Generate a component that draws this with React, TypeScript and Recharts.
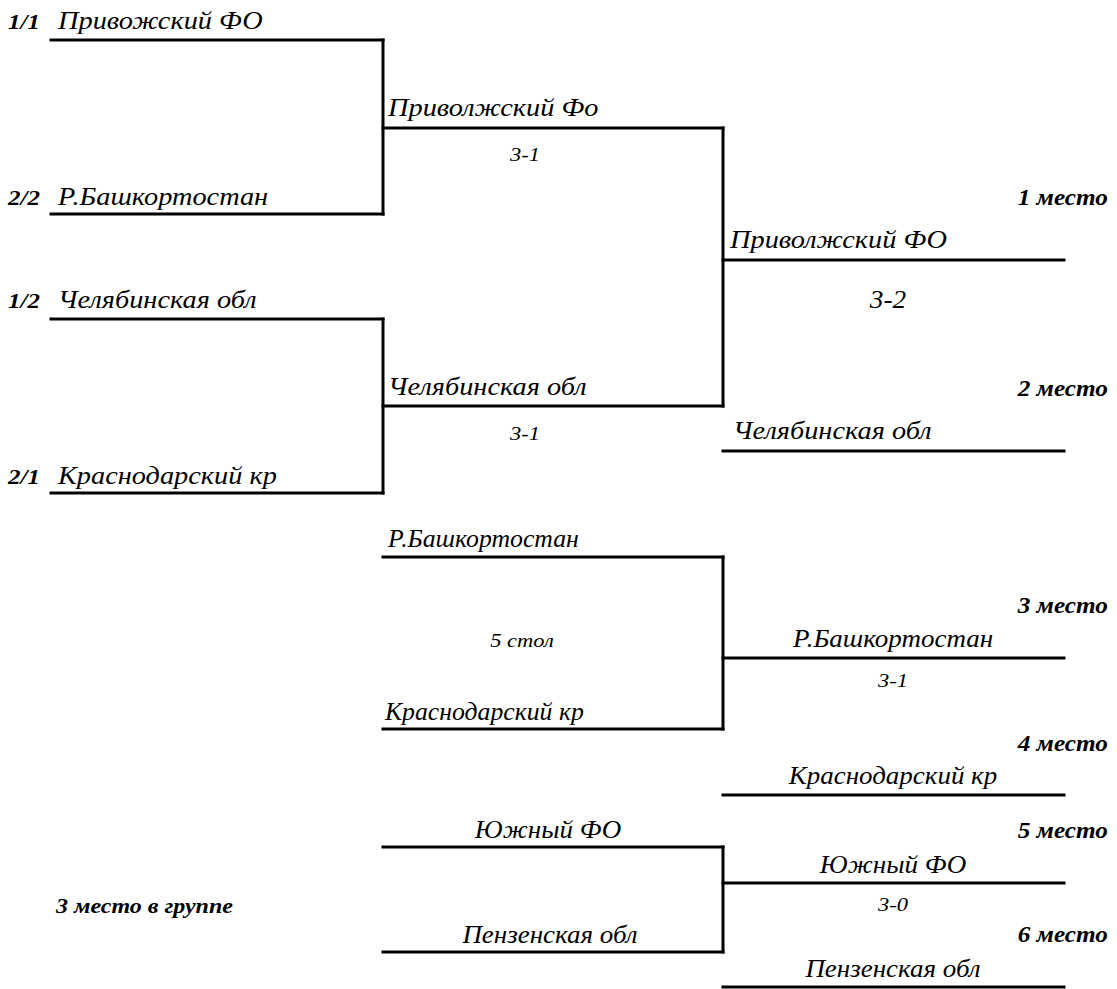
import React from "react";
import { ComposedChart, XAxis, YAxis, Scatter, ReferenceLine } from "recharts";

// bracket lines, in chart units (x across, y down)
const hLines = [
  { x1: 51, x2: 383, y: 40 },
  { x1: 51, x2: 383, y: 214 },
  { x1: 51, x2: 383, y: 319 },
  { x1: 51, x2: 383, y: 493 },
  { x1: 383, x2: 723, y: 128 },
  { x1: 383, x2: 723, y: 406 },
  { x1: 723, x2: 1064, y: 260 },
  { x1: 723, x2: 1064, y: 451 },
  { x1: 383, x2: 723, y: 557 },
  { x1: 383, x2: 723, y: 729 },
  { x1: 723, x2: 1064, y: 658 },
  { x1: 723, x2: 1064, y: 795 },
  { x1: 383, x2: 723, y: 847 },
  { x1: 383, x2: 723, y: 952 },
  { x1: 723, x2: 1064, y: 883 },
  { x1: 723, x2: 1064, y: 987 },
];
const vLines = [
  { x: 383, y1: 40, y2: 214 },
  { x: 383, y1: 319, y2: 493 },
  { x: 723, y1: 128, y2: 406 },
  { x: 723, y1: 557, y2: 729 },
  { x: 723, y1: 847, y2: 952 },
];

const seeds = [
  { x: 8, y: 29, text: "1/1" },
  { x: 8, y: 205, text: "2/2" },
  { x: 8, y: 308, text: "1/2" },
  { x: 8, y: 484, text: "2/1" },
];
const teamsMain = [
  { x: 58, y: 29, text: "Привожский ФО" },
  { x: 58, y: 205, text: "Р.Башкортостан" },
  { x: 58, y: 308, text: "Челябинская обл" },
  { x: 58, y: 484, text: "Краснодарский кр" },
  { x: 388, y: 116, text: "Приволжский Фо" },
  { x: 388, y: 395, text: "Челябинская обл" },
  { x: 730, y: 248, text: "Приволжский ФО" },
  { x: 733, y: 439, text: "Челябинская обл" },
];
const teamsThird = [
  { x: 388, y: 547, text: "Р.Башкортостан" },
  { x: 385, y: 720, text: "Краснодарский кр" },
];
const teamsCenter = [
  { x: 893, y: 647, text: "Р.Башкортостан" },
  { x: 893, y: 784, text: "Краснодарский кр" },
  { x: 548, y: 838, text: "Южный ФО" },
  { x: 550, y: 943, text: "Пензенская обл" },
  { x: 893, y: 873, text: "Южный ФО" },
  { x: 893, y: 977, text: "Пензенская обл" },
];
const scores = [
  { x: 525, y: 161, text: "3-1" },
  { x: 525, y: 440, text: "3-1" },
  { x: 893, y: 687, text: "3-1" },
  { x: 893, y: 911, text: "3-0" },
  { x: 522, y: 647, text: "5 стол" },
];
const finalScore = [{ x: 888, y: 308, text: "3-2" }];
const places = [
  { x: 1108, y: 205, text: "1 место" },
  { x: 1108, y: 396, text: "2 место" },
  { x: 1108, y: 613, text: "3 место" },
  { x: 1108, y: 751, text: "4 место" },
  { x: 1108, y: 838, text: "5 место" },
  { x: 1108, y: 942, text: "6 место" },
];
const notes = [{ x: 56, y: 913, text: "3 место в группе" }];

const textShape =
  (size: number, anchor: string, stretch: number, bold = false) =>
  (props: any) =>
    (
      <text
        transform={`translate(${props.cx},${props.cy}) scale(${stretch},1)`}
        textAnchor={anchor}
        fill="#000"
        style={{
          fontFamily: "Liberation Serif",
          fontStyle: "italic",
          fontWeight: bold ? "bold" : "normal",
          fontSize: size,
        }}
      >
        {props.payload.text}
      </text>
    );

export default function App() {
  return (
    <div style={{ position: "absolute", left: 0, top: 0, background: "#fff" }}>
      <ComposedChart width={1117} height={989} margin={{ top: 0, right: 0, bottom: 0, left: 0 }}>
        <XAxis type="number" dataKey="x" domain={[0, 1117]} hide />
        <YAxis type="number" dataKey="y" domain={[0, 989]} reversed hide />
        {hLines.map((l, i) => (
          <ReferenceLine
            key={"h" + i}
            segment={[{ x: l.x1, y: l.y }, { x: l.x2, y: l.y }]}
            stroke="#000"
            strokeWidth={3}
            strokeLinecap="square"
          />
        ))}
        {vLines.map((l, i) => (
          <ReferenceLine
            key={"v" + i}
            segment={[{ x: l.x, y: l.y1 }, { x: l.x, y: l.y2 }]}
            stroke="#000"
            strokeWidth={3}
            strokeLinecap="square"
          />
        ))}
        <Scatter data={seeds} shape={textShape(20, "start", 1.25, true)} isAnimationActive={false} />
        <Scatter data={teamsMain} shape={textShape(26, "start", 1.09)} isAnimationActive={false} />
        <Scatter data={teamsThird} shape={textShape(26, "start", 0.99)} isAnimationActive={false} />
        <Scatter data={teamsCenter} shape={textShape(25, "middle", 1.08)} isAnimationActive={false} />
        <Scatter data={scores} shape={textShape(18, "middle", 1.25)} isAnimationActive={false} />
        <Scatter data={finalScore} shape={textShape(26, "middle", 1.05)} isAnimationActive={false} />
        <Scatter data={places} shape={textShape(23, "end", 1.1, true)} isAnimationActive={false} />
        <Scatter data={notes} shape={textShape(20, "start", 1.2, true)} isAnimationActive={false} />
      </ComposedChart>
    </div>
  );
}
